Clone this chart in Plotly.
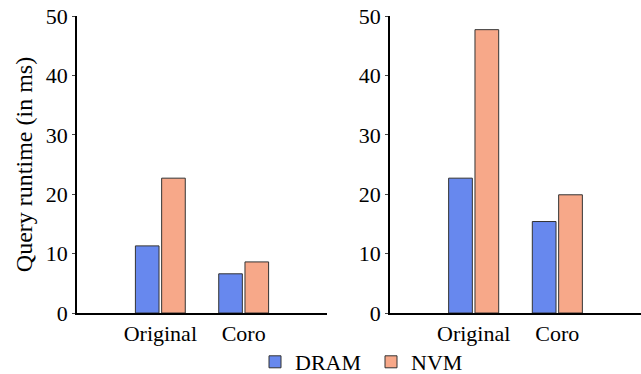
import plotly.graph_objects as go

categories = ["Original", "Coro"]
series_names = ["DRAM", "NVM"]
left_dram = [11.3, 6.6]
left_nvm = [22.7, 8.6]
right_dram = [22.7, 15.4]
right_nvm = [47.7, 19.9]
y_ticks = [0, 10, 20, 30, 40, 50]

colors = {"DRAM": "#6788ee", "NVM": "#f7a889"}
xpos = [1, 2]

fig = go.Figure()
for name, lv, rv in [("DRAM", left_dram, right_dram), ("NVM", left_nvm, right_nvm)]:
    fig.add_trace(go.Bar(x=xpos, y=lv, name=name, marker=dict(color=colors[name], line=dict(color="#333333", width=1)),
                         xaxis="x", yaxis="y", legendgroup=name, showlegend=True))
    fig.add_trace(go.Bar(x=xpos, y=rv, name=name, marker=dict(color=colors[name], line=dict(color="#333333", width=1)),
                         xaxis="x2", yaxis="y2", legendgroup=name, showlegend=False))

font = "Liberation Serif, DejaVu Serif, serif"
axis_common = dict(showline=True, linecolor="black", linewidth=1.5, showgrid=False, zeroline=False,
                   automargin=False, tickfont=dict(family=font, size=22, color="black"))
H = 374
ydom = [1 - 313 / H, 1 - 16 / H]
fig.update_layout(
    width=641, height=374,
    margin=dict(l=0, r=0, t=0, b=0, autoexpand=False),
    paper_bgcolor="white", plot_bgcolor="white",
    barmode="group", bargap=0.37, bargroupgap=0.1,
    font=dict(family=font, size=22, color="black"),
    xaxis=dict(domain=[77 / 641, 327 / 641], range=[0, 3], tickvals=xpos, ticktext=categories,
               ticks="", anchor="y", **axis_common),
    yaxis=dict(domain=ydom, range=[0, 50], tickvals=y_ticks, ticks="outside", ticklen=3, tickwidth=1,
               anchor="x", title=dict(text="Query runtime (in ms)", standoff=6,
                                      font=dict(family=font, size=24, color="black")), **axis_common),
    xaxis2=dict(domain=[390 / 641, 1.0], range=[0, 3], tickvals=xpos, ticktext=categories,
                ticks="", anchor="y2", **axis_common),
    yaxis2=dict(domain=ydom, range=[0, 50], tickvals=y_ticks, ticks="outside", ticklen=3, tickwidth=1,
                anchor="x2", **axis_common),
    legend=dict(orientation="h", x=255 / 641, xanchor="left", y=(H - 362) / H, yanchor="middle",
                font=dict(family=font, size=22, color="black"), itemwidth=30, bgcolor="rgba(0,0,0,0)",
                entrywidth=71, entrywidthmode="pixels", tracegroupgap=0),
)
fig.write_html("out.html", config={"displayModeBar": False},
               post_script="document.body.style.margin='0px';document.body.style.padding='0px';")
